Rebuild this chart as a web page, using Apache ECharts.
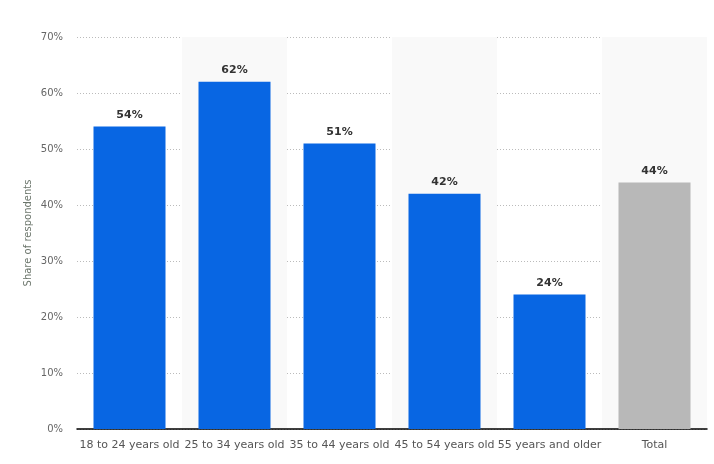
<!DOCTYPE html>
<html><head><meta charset="utf-8">
<script src="https://cdn.jsdelivr.net/npm/echarts@6/dist/echarts.min.js"></script>
<style>html,body{margin:0;padding:0;background:#fff}#c{width:714px;height:464px}</style>
</head><body><div id="c"></div>
<script>
const categories = ['18 to 24 years old','25 to 34 years old','35 to 44 years old','45 to 54 years old','55 years and older','Total'];
const values = [54, 62, 51, 42, 24, 44];
const barColors = ['#0866e3','#0866e3','#0866e3','#0866e3','#0866e3','#b8b8b8'];
const yTicks = [0,10,20,30,40,50,60,70];

const chart = echarts.init(document.getElementById('c'));
chart.setOption({
  animation:false,
  grid:{left:77,right:7,top:37,bottom:35},
  xAxis:{
    type:'category', data:categories,
    axisLine:{lineStyle:{color:'#000',width:1.5}},
    axisTick:{show:false},
    axisLabel:{color:'#555',fontSize:11,fontFamily:'DejaVu Sans',margin:11,interval:0},
    splitArea:{show:true,areaStyle:{color:['rgba(255,255,255,0)','#f9f9f9']}}
  },
  yAxis:{
    type:'value', min:yTicks[0], max:yTicks[yTicks.length-1], interval:10,
    name:'Share of respondents', nameLocation:'middle', nameGap:44, nameMoveOverlap:false,
    nameTextStyle:{color:'#6b756b',fontSize:10,fontFamily:'DejaVu Sans'},
    axisLine:{show:false}, axisTick:{show:false},
    axisLabel:{color:'#666',fontSize:10,fontFamily:'DejaVu Sans',margin:14,formatter:'{value}%'},
    splitLine:{lineStyle:{color:'#bbb',type:[1,2],width:1}}
  },
  series:[{
    type:'bar', barWidth:72,
    data:values.map((v,i)=>({value:v,itemStyle:{color:barColors[i]}})),
    label:{show:true,position:'top',distance:6,formatter:'{c}%',color:'#333',fontWeight:'bold',fontSize:11,fontFamily:'DejaVu Sans'}
  }]
});
</script></body></html>
